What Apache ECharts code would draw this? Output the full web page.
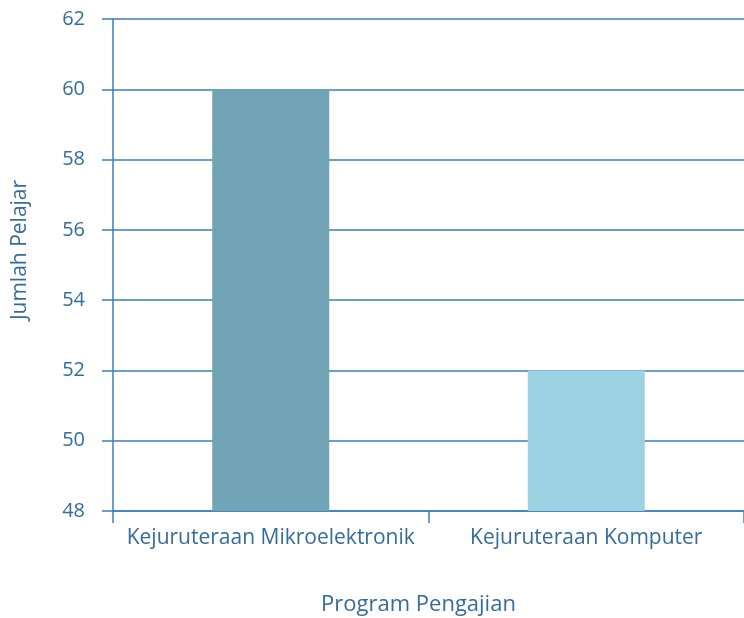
<!DOCTYPE html>
<html>
<head>
<meta charset="utf-8">
<script src="https://cdn.jsdelivr.net/npm/echarts@6/dist/echarts.min.js"></script>
<style>
html,body{margin:0;padding:0;background:#fff;}
#c{width:744px;height:618px;}
</style>
</head>
<body>
<div id="c"></div>
<script>
const categories = ['Kejuruteraan Mikroelektronik', 'Kejuruteraan Komputer'];
const values = [60, 52];
const barColors = ['#70a3b3', '#9dd2e2'];
const yMin = 48, yMax = 62, yInterval = 2;

const axisBlue = '#3d7dbd';
const textBlue = '#356c9a';
const font = 'Open Sans';

const chart = echarts.init(document.getElementById('c'));
chart.setOption({
  backgroundColor: '#ffffff',
  animation: false,
  grid: { left: 113, right: 0, top: 19, bottom: 107, outerBoundsMode: 'none', containLabel: false },
  xAxis: {
    type: 'category',
    data: categories,
    name: 'Program Pengajian',
    nameLocation: 'middle',
    nameGap: 83,
    nameTextStyle: { color: textBlue, fontSize: 22, fontFamily: font, padding: [0, 20, 0, 0] },
    axisLine: { lineStyle: { color: axisBlue, width: 1.5 } },
    axisTick: { show: true, interval: 0, length: 12, lineStyle: { color: axisBlue, width: 1.5 } },
    axisLabel: { color: textBlue, fontSize: 21, fontFamily: font, margin: 17, interval: 0 }
  },
  yAxis: {
    type: 'value',
    min: yMin, max: yMax, interval: yInterval,
    name: 'Jumlah Pelajar',
    nameLocation: 'middle',
    nameGap: 82,
    nameTextStyle: { color: textBlue, fontSize: 21, fontFamily: font, padding: [0, 0, 0, 30] },
    axisLine: { show: true, lineStyle: { color: axisBlue, width: 1.5 } },
    axisTick: { show: true, length: 11, lineStyle: { color: axisBlue, width: 1.5 } },
    axisLabel: { color: textBlue, fontSize: 20, fontFamily: font, margin: 28 },
    splitLine: { show: true, lineStyle: { color: axisBlue, width: 1.5 } }
  },
  series: [{
    type: 'bar',
    data: values.map((v, i) => ({ value: v, itemStyle: { color: barColors[i] } })),
    barWidth: 117
  }]
});
</script>
</body>
</html>
